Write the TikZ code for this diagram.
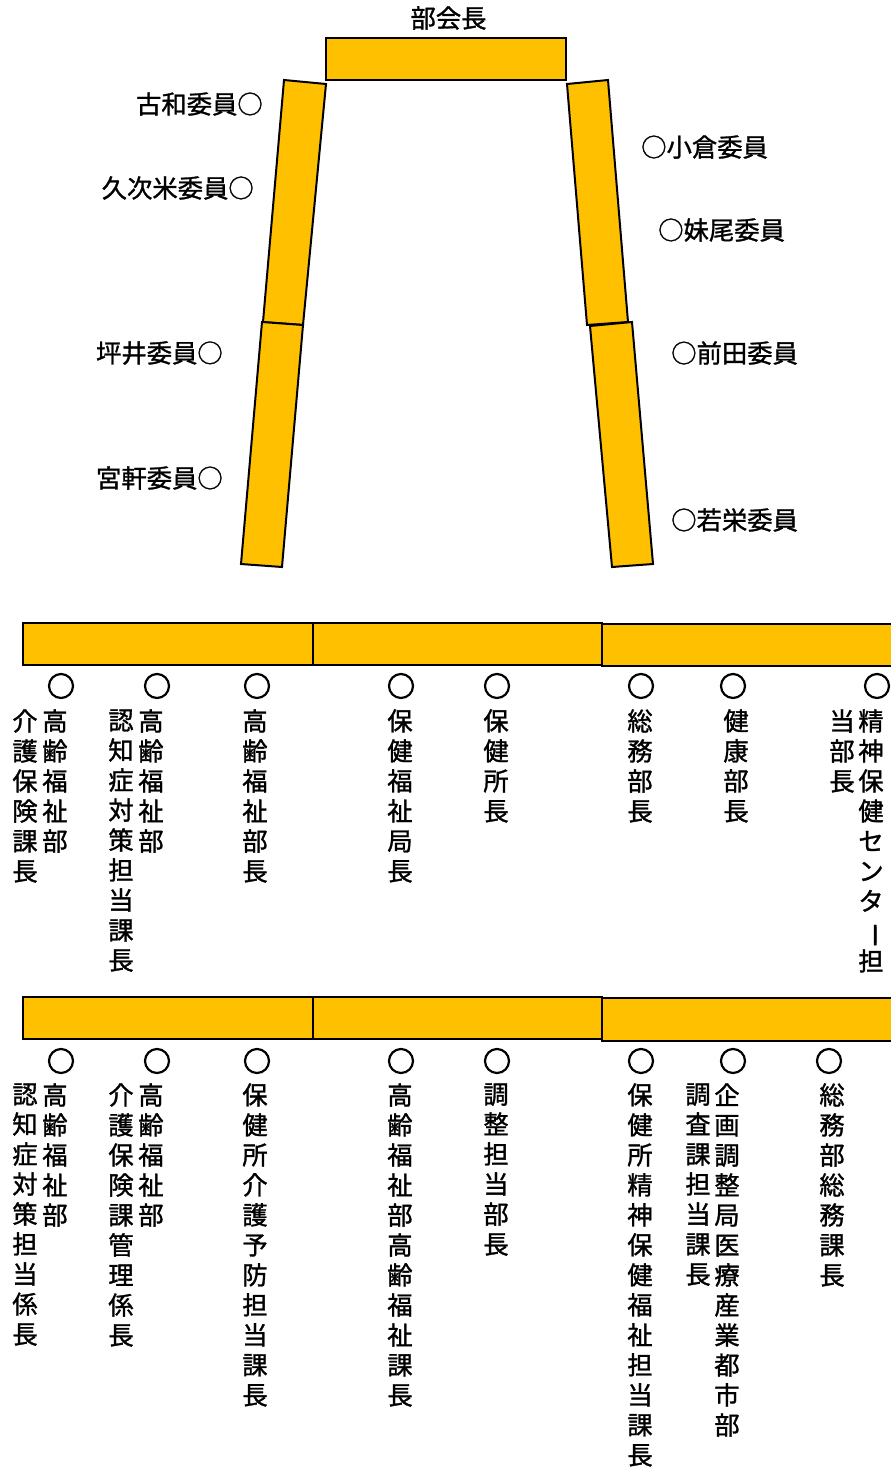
\documentclass[tikz,border=0pt]{standalone}
\usepackage{fontspec}
\setmainfont{Noto Sans CJK JP}
\newfontfamily\cjk[FakeBold=1.2]{Noto Sans CJK JP}
\definecolor{barfill}{HTML}{FFC000}
\ExplSyntaxOn
\NewDocumentCommand\vtxt{m}{
  \seq_clear:N \l_tmpa_seq
  \tl_map_inline:nn {#1}{\seq_put_right:Nn \l_tmpa_seq {##1}}
  \seq_use:Nn \l_tmpa_seq {\\}
}
\ExplSyntaxOff
\newcommand\vbar{\rotatebox[origin=c]{-90}{ー}}
\tikzset{
  bar/.style={draw=black, line width=1.5pt, fill=barfill, line join=miter},
  ring/.style={circle, draw=black, line width=1.65pt, minimum size=18pt, inner sep=0pt},
  vcol/.style={font={\cjk\fontsize{19pt}{22.5pt}\selectfont}, align=center, anchor=north, inner sep=0pt},
  lbl/.style={font={\cjk\fontsize{19pt}{22.5pt}\selectfont}, inner sep=0pt}
}
\begin{document}
\begin{tikzpicture}[x=0.75pt,y=-0.75pt]
\useasboundingbox (0,0) rectangle (890,1467);
% chair
\draw[bar] (326,38) rectangle (566,80);
\node[lbl] (chair) at (448.5,18) {部会長};
% slanted bars
\draw[bar] (284,80) -- (326,84) -- (303,325) -- (263,322) -- cycle;
\draw[bar] (262,322) -- (303,325) -- (282,567) -- (241,564) -- cycle;
\draw[bar] (567,84) -- (608,80) -- (628,322) -- (587,325) -- cycle;
\draw[bar] (590,326) -- (632,322) -- (653,564) -- (612,567) -- cycle;
% members
\node[lbl, anchor=east] (m1) at (263,104) {古和委員○};
\node[lbl, anchor=east] (m2) at (254,188) {久次米委員○};
\node[lbl, anchor=east] (m3) at (223,353) {坪井委員○};
\node[lbl, anchor=east] (m4) at (223,478) {宮軒委員○};
\node[lbl, anchor=west] (m5) at (641,147) {○小倉委員};
\node[lbl, anchor=west] (m6) at (658,230) {○妹尾委員};
\node[lbl, anchor=west] (m7) at (671,353) {○前田委員};
\node[lbl, anchor=west] (m8) at (671,520) {○若栄委員};
% row 1 bars
\draw[bar] (23,623) rectangle (313,665);
\draw[bar] (313,623) rectangle (602,665);
\draw[bar] (602,624) rectangle (920,666);
% row 1 rings
\foreach \x [count=\i] in {61,157,257,401,497,641,733,877}
  \node[ring] (a\i) at (\x,686) {};
% row 1 labels
\node[vcol] (a1r) at (55,709) {\vtxt{高齢福祉部}};
\node[vcol] (a1l) at (25,709) {\vtxt{介護保険課長}};
\node[vcol] (a2r) at (151,709) {\vtxt{高齢福祉部}};
\node[vcol] (a2l) at (121,709) {\vtxt{認知症対策担当課長}};
\node[vcol] (a3) at (255,709) {\vtxt{高齢福祉部長}};
\node[vcol] (a4) at (400,709) {\vtxt{保健福祉局長}};
\node[vcol] (a5) at (496,709) {\vtxt{保健所長}};
\node[vcol] (a6) at (640,709) {\vtxt{総務部長}};
\node[vcol] (a7) at (736,709) {\vtxt{健康部長}};
\node[vcol] (a8r) at (871,709) {\vtxt{精神保健センタ{\vbar}担}};
\node[vcol] (a8l) at (842,709) {\vtxt{当部長}};
% row 2 bars
\draw[bar] (23,997) rectangle (313,1039);
\draw[bar] (313,997) rectangle (602,1039);
\draw[bar] (602,998) rectangle (920,1041);
% row 2 rings
\foreach \x [count=\i] in {61,157,257,401,497,641,733,829}
  \node[ring] (b\i) at (\x,1061) {};
% row 2 labels
\node[vcol] (b1r) at (55,1083) {\vtxt{高齢福祉部}};
\node[vcol] (b1l) at (25,1083) {\vtxt{認知症対策担当係長}};
\node[vcol] (b2r) at (151,1083) {\vtxt{高齢福祉部}};
\node[vcol] (b2l) at (121,1083) {\vtxt{介護保険課管理係長}};
\node[vcol] (b3) at (255,1083) {\vtxt{保健所介護予防担当課長}};
\node[vcol] (b4) at (400,1083) {\vtxt{高齢福祉部高齢福祉課長}};
\node[vcol] (b5) at (496,1083) {\vtxt{調整担当部長}};
\node[vcol] (b6) at (640,1083) {\vtxt{保健所精神保健福祉担当課長}};
\node[vcol] (b7r) at (727,1083) {\vtxt{企画調整局医療産業都市部}};
\node[vcol] (b7l) at (698,1083) {\vtxt{調査課担当課長}};
\node[vcol] (b8) at (832,1083) {\vtxt{総務部総務課長}};
\end{tikzpicture}
\end{document}
